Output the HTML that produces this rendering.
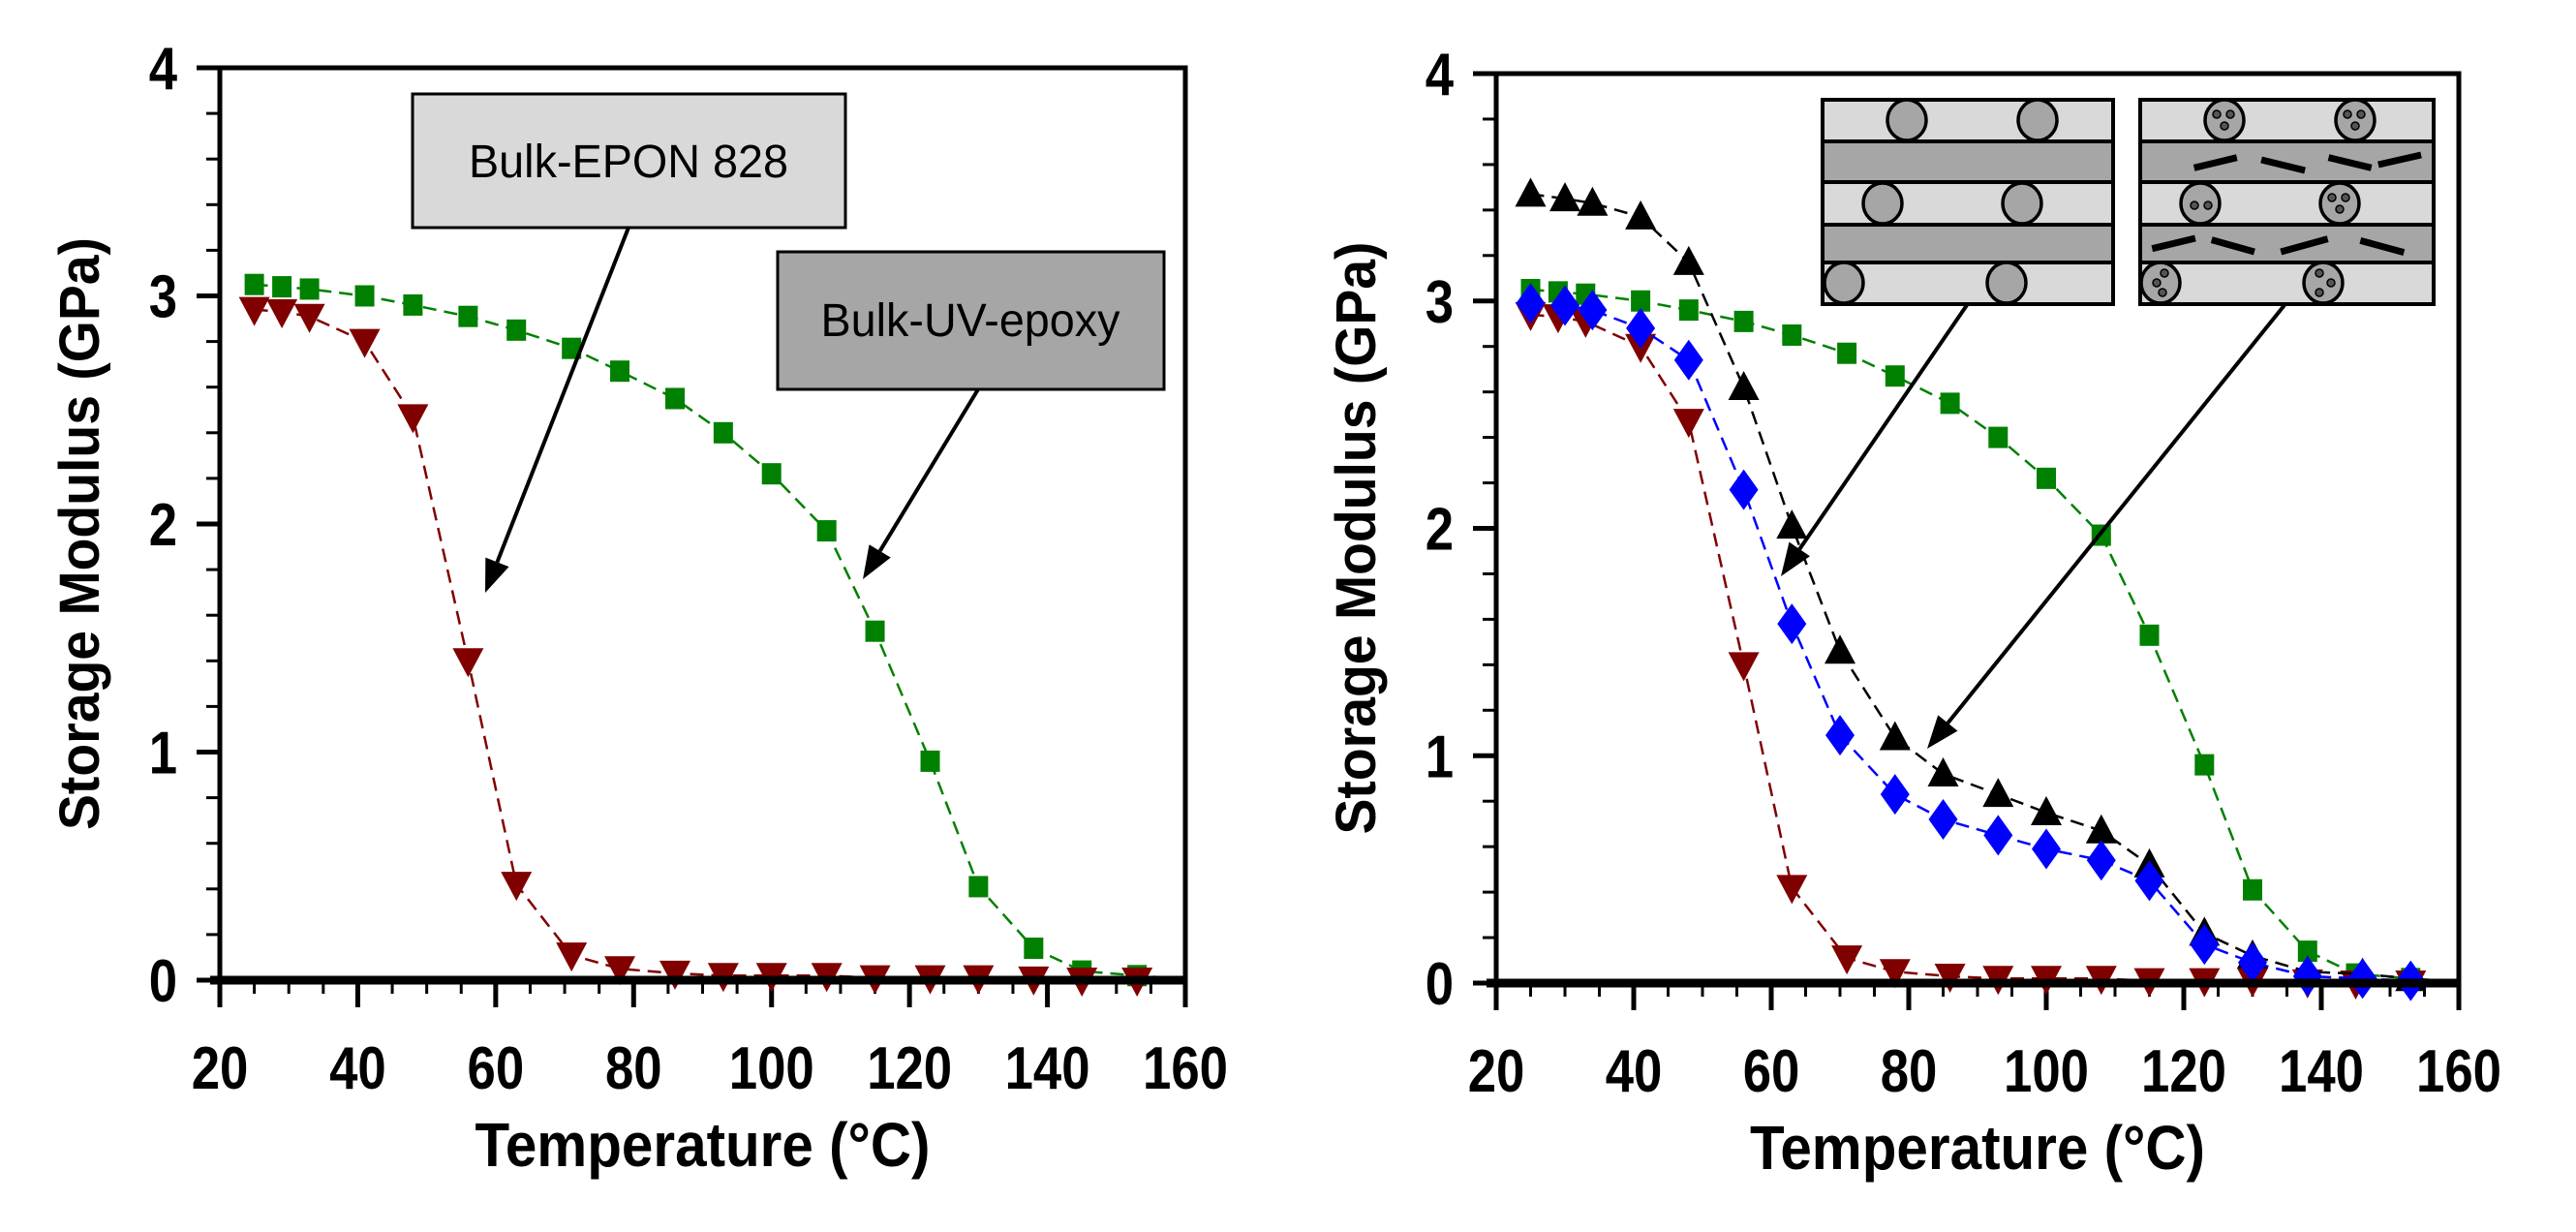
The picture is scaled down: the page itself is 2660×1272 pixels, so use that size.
<!DOCTYPE html>
<html><head><meta charset="utf-8"><style>
html,body{margin:0;padding:0;background:#fff;}
svg{display:block;font-family:"Liberation Sans",Arial,sans-serif;}
</style></head><body>
<svg id="fig" width="2660" height="1272" viewBox="0 0 2660 1272" xmlns="http://www.w3.org/2000/svg">
<g id="left"></g>
<g id="right"></g>
<g id="ann">
  <g>
    <rect x="426" y="97" width="447" height="138" fill="#d9d9d9" stroke="#000" stroke-width="3"/>
    <text x="649" y="183" font-size="48" text-anchor="middle" textLength="330" lengthAdjust="spacingAndGlyphs">Bulk-EPON 828</text>
  </g>
  <g>
    <rect x="803" y="260" width="399" height="142" fill="#a6a6a6" stroke="#000" stroke-width="3"/>
    <text x="1002" y="347" font-size="48" text-anchor="middle" textLength="309" lengthAdjust="spacingAndGlyphs">Bulk-UV-epoxy</text>
  </g>
  <g id="insets"></g>
</g>
</svg>
<script>
const temps = [25,29,33,41,48,56,63,71,78,86,93,100,108,115,123,130,138,145,153];
const uvEpoxy = [3.05,3.04,3.03,3.0,2.96,2.91,2.85,2.77,2.67,2.55,2.40,2.22,1.97,1.53,0.96,0.41,0.14,0.04,0.02];
const epon = [2.94,2.93,2.91,2.80,2.47,1.40,0.42,0.11,0.05,0.03,0.02,0.02,0.02,0.01,0.01,0.01,0.005,0.0,0.0];
const tempsR = [25,30,34,41,48,56,63,70,78,85,93,100,108,115,123,130,138,146,153];
const blackTri = [3.47,3.45,3.43,3.37,3.17,2.62,2.01,1.46,1.08,0.92,0.83,0.75,0.67,0.52,0.22,0.12,0.05,0.04,0.02];
const blueDia = [2.99,2.98,2.96,2.88,2.74,2.17,1.58,1.09,0.83,0.72,0.65,0.59,0.54,0.45,0.17,0.09,0.03,0.02,0.01];
const xTicks = [20,40,60,80,100,120,140,160];
const yTicks = [0,1,2,3,4];

const NS='http://www.w3.org/2000/svg';
function mk(tag,attrs,parent){const e=document.createElementNS(NS,tag);for(const k in attrs)e.setAttribute(k,attrs[k]);parent.appendChild(e);return e;}

function drawChart(g, x0, x1, y0, y4, series, name){
  const sx=v=>x0+(v-20)/140*(x1-x0);
  const sy=v=>y0-(v/4)*(y0-y4);
  for(let v=0.2; v<4; v+=0.2){
    const t=mk('line',{x1:x0-14,x2:x0,y1:sy(v),y2:sy(v),stroke:'#000','stroke-width':3},g);
    
    
  }
  for(let v=25; v<160; v+=5){
    if(v%20===0) continue;
    const t=mk('line',{x1:sx(v),x2:sx(v),y1:y0,y2:y0+14,stroke:'#000','stroke-width':3},g);
    
    
  }
  yTicks.forEach(v=>{
    const t=mk('line',{x1:x0-24,x2:x0,y1:sy(v),y2:sy(v),stroke:'#000','stroke-width':5},g);
    
    
    const l=mk('text',{x:0,y:0,'font-size':62,'font-weight':'bold','text-anchor':'end',transform:`translate(${x0-44},${sy(v)+22}) scale(0.85,1)`},g);
    l.textContent=v;
    
    
  });
  xTicks.forEach(v=>{
    const t=mk('line',{x1:sx(v),x2:sx(v),y1:y0,y2:y0+28,stroke:'#000','stroke-width':5},g);
    
    
    const l=mk('text',{x:0,y:0,'font-size':62,'font-weight':'bold','text-anchor':'middle',transform:`translate(${sx(v)},${y0+112}) scale(0.85,1)`},g);
    l.textContent=v;
    
    
  });
  series.forEach(s=>{
    const pts=s.xs.map((t,i)=>sx(t)+','+sy(s.ys[i])).join(' ');
    const pl=mk('polyline',{points:pts+' '+sx(160)+','+sy(0.005),fill:'none',stroke:s.color,'stroke-width':2.5,'stroke-dasharray':'14,8'},g);
    
    
    s.xs.forEach((t,i)=>{
      const cx=sx(t), cy=sy(s.ys[i]);
      let m;
      if(s.shape==='square') m=mk('rect',{x:cx-10,y:cy-11,width:20,height:22,fill:s.color},g);
      else if(s.shape==='down') m=mk('polygon',{points:`${cx-16},${cy-13} ${cx+16},${cy-13} ${cx},${cy+17}`,fill:s.color},g);
      else if(s.shape==='up') m=mk('polygon',{points:`${cx-16},${cy+13} ${cx+16},${cy+13} ${cx},${cy-17}`,fill:s.color},g);
      else m=mk('polygon',{points:`${cx},${cy-21} ${cx+15},${cy} ${cx},${cy+21} ${cx-15},${cy}`,fill:s.color},g);
      
      
    });
  });
  const f=mk('rect',{x:x0,y:y4,width:x1-x0,height:y0-y4,fill:'none',stroke:'#000','stroke-width':5},g);
  
  
  const ax=mk('line',{x1:x0-10,x2:x1,y1:y0,y2:y0,stroke:'#000','stroke-width':9},g);
  
  
  const xt=mk('text',{x:(x0+x1)/2,y:y0+192,'font-size':64,'font-weight':'bold','text-anchor':'middle',textLength:470,lengthAdjust:'spacingAndGlyphs'},g);
  xt.textContent='Temperature (°C)';
  
  
  const yc=(y0+y4)/2+10;
  const yt=mk('text',{x:0,y:0,'font-size':58,'font-weight':'bold','text-anchor':'middle',textLength:612,lengthAdjust:'spacingAndGlyphs',transform:`translate(${x0-125},${yc}) rotate(-90)`},g);
  yt.textContent='Storage Modulus (GPa)';
  
  
}

drawChart(document.getElementById('left'),227,1224,1012,70,[
  {name:'uv-epoxy',xs:temps,ys:uvEpoxy,color:'#008000',shape:'square'},
  {name:'epon-828',xs:temps,ys:epon,color:'#800000',shape:'down'}
],'left');
drawChart(document.getElementById('right'),1545,2539,1015,76,[
  {name:'uv-epoxy',xs:temps,ys:uvEpoxy,color:'#008000',shape:'square'},
  {name:'epon-828',xs:temps,ys:epon,color:'#800000',shape:'down'},
  {name:'black-composite',xs:tempsR,ys:blackTri,color:'#000000',shape:'up'},
  {name:'blue-composite',xs:tempsR,ys:blueDia,color:'#0000ff',shape:'diamond'}
],'right');

const ann=document.getElementById('ann');
function arrow(x1,y1,x2,y2,name){
  const g=mk('g',{},ann);
  
  
  const a=Math.atan2(y2-y1,x2-x1), L=34, W=13;
  const bx=x2-L*Math.cos(a), by=y2-L*Math.sin(a);
  mk('line',{x1,y1,x2:bx,y2:by,stroke:'#000','stroke-width':4},g);
  mk('polygon',{points:`${x2},${y2} ${bx+W*Math.sin(a)},${by-W*Math.cos(a)} ${bx-W*Math.sin(a)},${by+W*Math.cos(a)}`,fill:'#000'},g);
}
arrow(649,235,501,612,'epon-arrow');
arrow(1010,402,891,598,'uv-epoxy-arrow');

const ins=document.getElementById('insets');
const bands=[103,146,188,232,271,314];
function inset(x0,x1,name,circles,dashes){
  const g=mk('g',{},ins);
  
  
  for(let i=0;i<5;i++){
    mk('rect',{x:x0,y:bands[i],width:x1-x0,height:bands[i+1]-bands[i],fill:i%2?'#a6a6a6':'#d9d9d9',stroke:'#000','stroke-width':4},g);
  }
  circles.forEach(c=>{
    mk('ellipse',{cx:c[0],cy:c[1],rx:20,ry:21,fill:'#a6a6a6',stroke:'#000','stroke-width':3.5},g);
    (c[2]||[]).forEach(d=>mk('circle',{cx:c[0]+d[0],cy:c[1]+d[1],r:4,fill:'#555',stroke:'#000','stroke-width':1.5},g));
  });
  dashes.forEach(d=>mk('line',{x1:d[0],y1:d[1],x2:d[2],y2:d[3],stroke:'#000','stroke-width':7},g));
}
inset(1882,2182,'inset-unfilled',[[1969,124],[2104,124],[1944,210],[2088,210],[1904,292],[2072,292]],[]);
const dots3=[[-8,-6],[6,-6],[0,6]];
const dx=v=>v/2.376+1870, dy=v=>v/3+90;
inset(2210,2513,'inset-filled',
  [[2297,124,dots3],[2432,124,dots3],[2272,210,[[-6,2],[8,2]]],[2416,210,dots3],[2231,292,[[4,-10],[-4,0],[2,10]]],[2399,292,[[-4,-10],[8,0],[-4,10]]]],
  [[dx(940),dy(250),dx(1045),dy(218)],[dx(1105),dy(225),dx(1212),dy(258)],[dx(1270),dy(218),dx(1375),dy(250)],[dx(1392),dy(240),dx(1497),dy(210)],
   [dx(837),dy(500),dx(943),dy(468)],[dx(983),dy(473),dx(1088),dy(510)],[dx(1153),dy(510),dx(1268),dy(470)],[dx(1348),dy(475),dx(1455),dy(512)]]);
arrow(2031,315,1839,595,'inset-unfilled-arrow');
arrow(2359,315,1990,773,'inset-filled-arrow');
</script>
</body></html>
